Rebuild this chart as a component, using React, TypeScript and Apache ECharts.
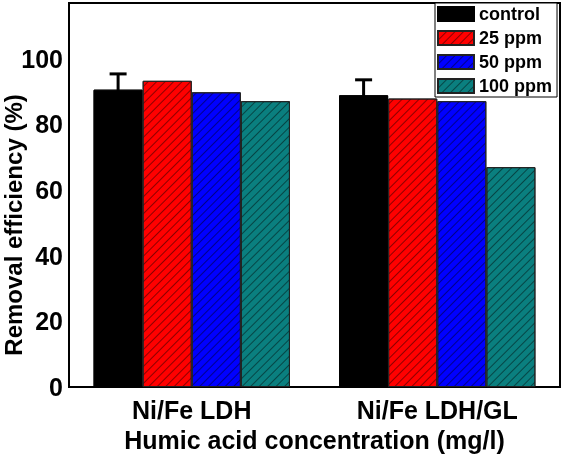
import React, { useEffect, useRef } from "react";
import * as echarts from "echarts";

const categories = ["Ni/Fe LDH", "Ni/Fe LDH/GL"];
const seriesNames = ["control", "25 ppm", "50 ppm", "100 ppm"];
const controlValues = [90.6, 88.9];
const ppm25Values = [93.3, 87.9];
const ppm50Values = [89.8, 87.1];
const ppm100Values = [87.1, 67.0];
const controlErrors = [4.8, 4.7];
const yTicks = [0, 20, 40, 60, 80, 100];

const colors = ["#000000", "#ff0000", "#0000ff", "#0a7f7f"];
const FONT = "Arial, 'Liberation Sans', sans-serif";

const hatch = {
  symbol: "rect",
  symbolSize: 1,
  dashArrayX: [1, 0],
  dashArrayY: [1, 5],
  rotation: -Math.PI / 4,
  color: "rgba(0,0,0,0.45)",
};

export default function App() {
  const ref = useRef<HTMLDivElement>(null);
  useEffect(() => {
    if (!ref.current) return;
    const chart = echarts.init(ref.current, undefined, { renderer: "svg" });
    const values = [controlValues, ppm25Values, ppm50Values, ppm100Values];
    const barSeries = seriesNames.map((name, i) => ({
      name,
      type: "bar",
      data: values[i],
      barGap: "0%",
      barCategoryGap: "20%",
      itemStyle: {
        color: colors[i],
        borderColor: i === 0 ? "#000" : "#222",
        borderWidth: 1,
        decal: i === 0 ? { symbol: "none" } : hatch,
      },
      z: 2,
    }));
    const errData = categories.map((_, i) => [i, controlValues[i], controlErrors[i]]);
    chart.setOption({
      animation: false,
      aria: { enabled: false, decal: { show: true } },
      grid: {
        left: 69,
        right: 2,
        top: 3,
        bottom: 66,
        show: true,
        borderColor: "#000",
        borderWidth: 2,
      },
      legend: {
        data: seriesNames,
        orient: "vertical",
        left: 435,
        top: 3,
        backgroundColor: "#fff",
        borderColor: "#000",
        borderWidth: 1,
        borderRadius: 0,
        padding: [2, 5, 2, 2],
        itemWidth: 36,
        itemHeight: 14,
        itemGap: 6,
        icon: "rect",
        textStyle: {
          fontSize: 18,
          fontWeight: "bold",
          color: "#000",
          fontFamily: FONT,
        },
      },
      xAxis: {
        type: "category",
        data: categories,
        axisTick: { show: false },
        axisLine: { lineStyle: { color: "#000", width: 2 } },
        axisLabel: {
          color: "#000",
          fontSize: 25,
          fontWeight: "bold",
          fontFamily: FONT,
          margin: 10,
        },
        name: "Humic acid concentration (mg/l)",
        nameLocation: "middle",
        nameGap: 37,
        nameTextStyle: {
          color: "#000",
          fontSize: 25,
          fontWeight: "bold",
          fontFamily: FONT,
        },
      },
      yAxis: {
        type: "value",
        min: 0,
        max: 117,
        interval: 20,
        splitLine: { show: false },
        axisTick: { show: false },
        axisLine: { show: true, lineStyle: { color: "#000", width: 2 } },
        axisLabel: {
          color: "#000",
          fontSize: 25,
          fontWeight: "bold",
          fontFamily: FONT,
          margin: 6,
          formatter: (v: number) => (yTicks.includes(v) ? String(v) : ""),
        },
      },
      graphic: [
        {
          type: "text",
          x: 13,
          y: 225,
          rotation: Math.PI / 2,
          style: {
            text: "Removal efficiency (%)",
            font: `bold 24px ${FONT}`,
            fill: "#000",
            textAlign: "center",
            textVerticalAlign: "middle",
          },
        },
      ],
      series: [
        ...barSeries,
        {
          type: "custom",
          name: "error",
          data: errData,
          z: 5,
          encode: { x: 0, y: 1 },
          renderItem: (params: any, api: any) => {
            const cat = api.value(0);
            const v = api.value(1);
            const e = api.value(2);
            const band = api.size([1, 0])[0];
            const w = (band * 0.8) / 4;
            const cx = api.coord([cat, v])[0] - 1.5 * w;
            const top = api.coord([cat, v + e])[1];
            const bot = api.coord([cat, v - e])[1];
            const style = { stroke: "#000", lineWidth: 3 };
            return {
              type: "group",
              children: [
                { type: "line", shape: { x1: cx, y1: top, x2: cx, y2: bot }, style },
                { type: "line", shape: { x1: cx - 8.5, y1: top, x2: cx + 8.5, y2: top }, style },
              ],
            };
          },
        },
      ],
    });
    return () => chart.dispose();
  }, []);
  return <div ref={ref} style={{ width: 562, height: 457, position: "fixed", left: 0, top: 0 }} />;
}
